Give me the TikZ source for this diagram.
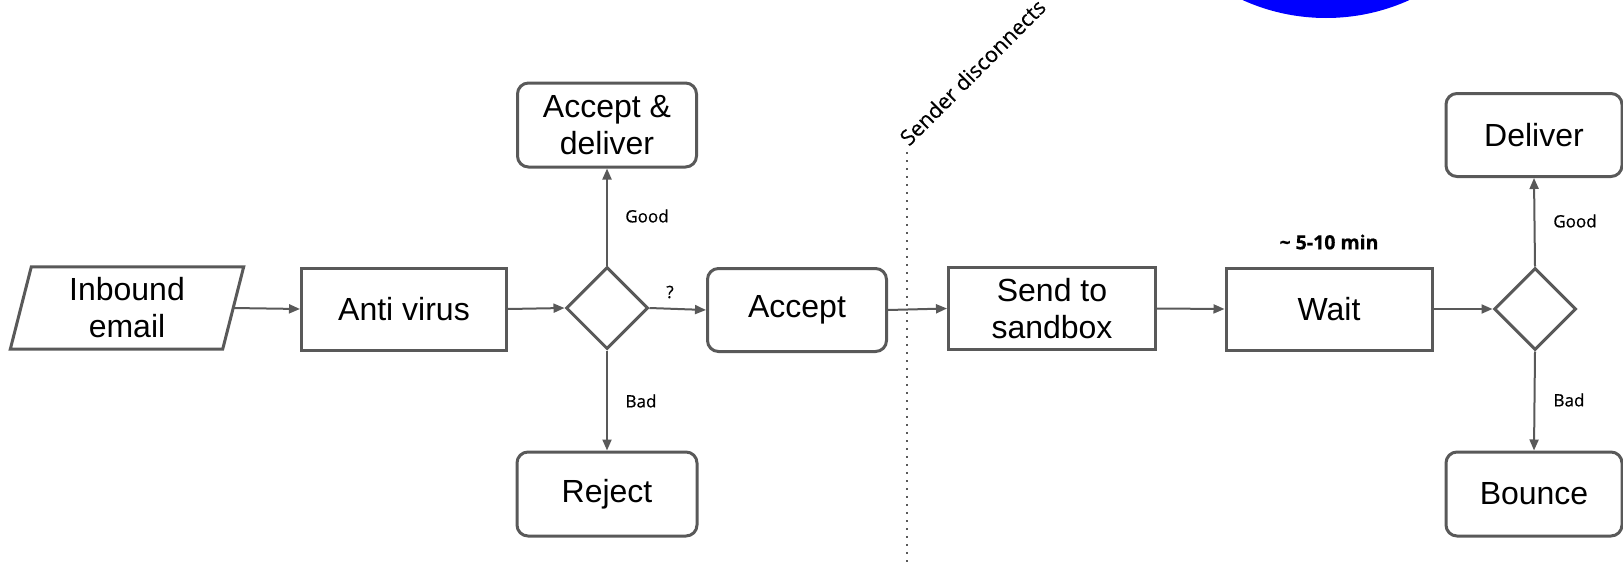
\documentclass[tikz,border=0pt]{standalone}
\usepackage{fontspec}
\setmainfont{Liberation Sans}
\newfontfamily\lblfont[FakeBold=0.6]{Open Sans}
\newfontfamily\sendfont[FakeBold=0.3]{Open Sans}
\usetikzlibrary{shapes.geometric,arrows.meta}
\definecolor{linegray}{HTML}{595959}
\definecolor{pureblue}{HTML}{0000FF}
\tikzset{
  boxtext/.style={font=\fontsize{32}{37}\selectfont, align=center, inner sep=0pt},
  sqbox/.style={boxtext, draw=linegray, line width=3pt, rectangle, minimum height=82pt},
  rbox/.style={sqbox, rounded corners=11pt},
  decision/.style={draw=linegray, line width=3pt, diamond, aspect=1, minimum width=82pt, minimum height=82pt, inner sep=0pt},
  conn/.style={draw=linegray, line width=2pt, -{Triangle[length=11pt,width=9pt]}},
  lbl/.style={font=\lblfont\fontsize{17}{20}\selectfont, inner sep=0pt},
  divider/.style={draw=linegray, line width=2pt, dash pattern=on 2pt off 6pt},
}
\begin{document}
\begin{tikzpicture}[x=1pt,y=-1pt]
\useasboundingbox (0,0) rectangle (1623,562);
\begin{scope}
\clip (0,0) rectangle (1623,562);
\fill[pureblue] (1326,-184) circle (202);
\end{scope}
% nodes
\node[boxtext, minimum width=212pt, minimum height=82pt] (inbound) at (127,308) {Inbound\\email};
\draw[draw=linegray, line width=3pt, line join=miter]
  ([xshift=10.5pt]inbound.north west) -- ([xshift=10.5pt]inbound.north east)
  -- ([xshift=-10.5pt]inbound.south east) -- ([xshift=-10.5pt]inbound.south west) -- cycle;
\node[sqbox, minimum width=205pt] (antivirus) at (404,309) {Anti virus};
\node[decision] (d1) at (607,308) {};
\node[rbox, minimum width=179pt, minimum height=84pt] (acceptdeliver) at (607,125) {Accept \&\\deliver};
\node[rbox, minimum width=180pt, minimum height=84pt] (reject) at (607,494) {Reject};
\node[rbox, minimum width=179pt, minimum height=83pt] (accept) at (797,310) {Accept};
\node[sqbox, minimum width=207pt] (sandbox) at (1052,308.5) {Send to\\sandbox};
\node[sqbox, minimum width=206pt] (wait) at (1329,309) {Wait};
\node[decision] (d2) at (1535,309) {};
\node[rbox, minimum width=176pt, minimum height=83pt] (deliver) at (1534,135) {Deliver};
\node[rbox, minimum width=176pt, minimum height=84pt] (bounce) at (1534,494) {Bounce};
% labels
\node[lbl] (goodl) at (647,216) {Good};
\node[lbl] (badl) at (641,401) {Bad};
\node[lbl] (q) at (670,292) {?};
\node[lbl] (goodr) at (1575,221) {Good};
\node[lbl] (badr) at (1569,400) {Bad};
\node[lbl, font=\lblfont\bfseries\fontsize{19.5}{22}\selectfont] (time) at (1329,242) {\textasciitilde{} 5-10 min};
\node[lbl, font=\sendfont\fontsize{21.5}{25}\selectfont, rotate=45, anchor=base west] (sender) at (909,147) {Sender disconnects};
% divider
\coordinate (divtop) at (907,152);
\coordinate (divbot) at (907,562);
\draw[divider] (divtop) -- (divbot);
% connectors
\draw[conn] (inbound.east) -- (antivirus.west);
\draw[conn] (antivirus.east) -- (d1.west);
\draw[conn] (d1.north) -- (acceptdeliver.south);
\draw[conn] (d1.south) -- (reject.north);
\draw[conn] (d1.east) -- (accept.west);
\draw[conn] (accept.east) -- (sandbox.west);
\draw[conn] (sandbox.east) -- (wait.west);
\draw[conn] (wait.east) -- (d2.west);
\draw[conn] (d2.north) -- (deliver.south);
\draw[conn] (d2.south) -- (bounce.north);
\end{tikzpicture}
\end{document}
